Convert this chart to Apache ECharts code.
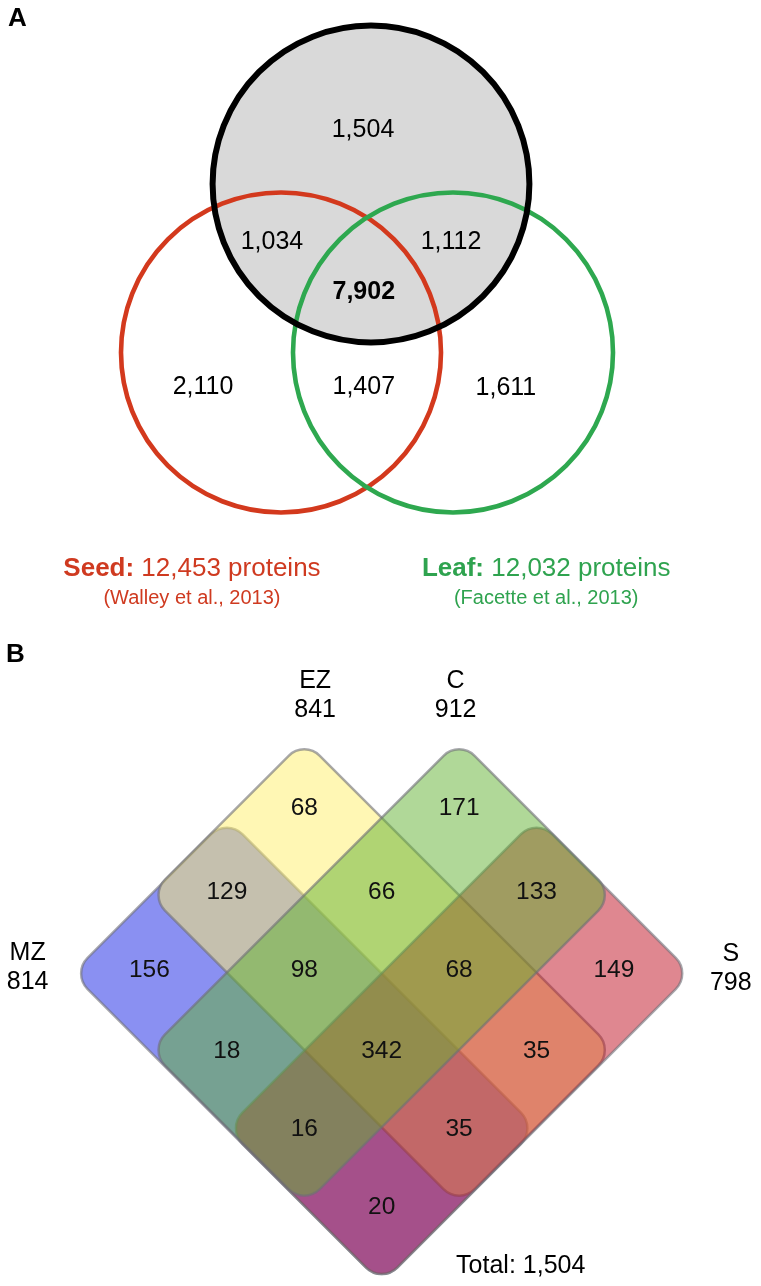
<!DOCTYPE html>
<html>
<head>
<meta charset="utf-8">
<script src="https://cdn.jsdelivr.net/npm/echarts@6/dist/echarts.min.js"></script>
<style>
html,body{margin:0;padding:0;background:#fff;}
#chart{width:761px;height:1286px;}
</style>
</head>
<body>
<div id="chart"></div>
<script>
// ================= DATA =================
// Panel A: three-set proteome overlap (unlabelled grey set = root proteome)
const regionKeysA   = ['Root', 'Root+Seed', 'Root+Leaf', 'Root+Seed+Leaf', 'Seed', 'Seed+Leaf', 'Leaf'];
const regionValuesA = [1504, 1034, 1112, 7902, 2110, 1407, 1611];
const setNamesA     = ['Seed', 'Leaf'];
const setTotalsA    = [12453, 12032];
const setSourcesA   = ['(Walley et al., 2013)', '(Facette et al., 2013)'];

// Panel B: four root zones
const setNamesB     = ['MZ', 'EZ', 'C', 'S'];
const setTotalsB    = [814, 841, 912, 798];
const regionKeysB   = ['MZ', 'EZ', 'C', 'S',
                       'MZ+EZ', 'EZ+C', 'C+S', 'MZ+C', 'EZ+S', 'MZ+S',
                       'MZ+EZ+C', 'EZ+C+S', 'MZ+C+S', 'MZ+EZ+S',
                       'MZ+EZ+C+S'];
const regionValuesB = [156, 68, 171, 149,
                       129, 66, 133, 18, 35, 20,
                       98, 68, 16, 35,
                       342];
const totalLabelB   = 'Total';
const totalB        = 1504;

// ================= LAYOUT / STYLE =================
const FONT = "'Liberation Sans', Arial, Helvetica, sans-serif";
const fmt = v => v.toLocaleString('en-US');

// Panel A geometry in "circle radius" units
const A_CIRCLES = {            // centre x, centre y, radius
  Root: [0.025, 0.725, 0.99],
  Seed: [-0.5375, -0.328, 1.0],
  Leaf: [0.5375, -0.328, 1.0]
};
const A_LABEL_POS = {
  'Root': [-0.025, 1.06], 'Root+Seed': [-0.594, 0.36], 'Root+Leaf': [0.525, 0.36],
  'Root+Seed+Leaf': [-0.02, 0.05], 'Seed': [-1.025, -0.545], 'Seed+Leaf': [-0.02, -0.545],
  'Leaf': [0.868, -0.548]
};
const A_LEGEND_POS = { Seed: [-1.094, -1.68], Leaf: [1.12, -1.68] };
const A_SOURCE_DY = -0.185;
const A_COLORS = { Root: '#000000', Seed: '#D3391D', Leaf: '#2EA84F' };
const A_TEXT_COLORS = { Seed: '#CF3A20', Leaf: '#2FA34F' };

// Panel B geometry: rotated 4x4 cell grid; i runs down-right, j runs up-right
const B_EXTENT = {
  MZ: { i: [-2, 2], j: [-2, 0] },
  EZ: { i: [-2, 2], j: [-1, 1] },
  C:  { i: [-1, 1], j: [-2, 2] },
  S:  { i: [0, 2],  j: [-2, 2] }
};
const B_DRAW_ORDER = ['MZ', 'EZ', 'S', 'C'];
const B_FILL = {
  MZ: 'rgba(21,33,229,0.5)',
  EZ: 'rgba(255,239,105,0.5)',
  C:  'rgba(97,177,49,0.5)',
  S:  'rgba(191,15,33,0.5)'
};
const B_SET_LABEL_POS = { MZ: [-4.573, 0.064], EZ: [-0.86, 3.535], C: [0.955, 3.535], S: [4.51, 0.045] };
const B_TOTAL_POS = [1.796, -3.745];
const toXY = (i, j) => [i + j, j - i];

// ================= BUILD SERIES DATA =================
const circleData = ['Root', 'Seed', 'Leaf', 'RootStroke'].map(k => {
  const c = A_CIRCLES[k === 'RootStroke' ? 'Root' : k];
  return [c[0], c[1], c[2]];
});
const circleStyles = [
  { fill: '#D9D9D9', stroke: null, lineWidth: 0 },
  { fill: 'none', stroke: A_COLORS.Seed, lineWidth: 4.6 },
  { fill: 'none', stroke: A_COLORS.Leaf, lineWidth: 4.6 },
  { fill: 'none', stroke: A_COLORS.Root, lineWidth: 6 }
];

// text items: value [x, y], plus text style info
const textA = regionKeysA.map((k, n) => ({
  value: A_LABEL_POS[k], text: fmt(regionValuesA[n]), size: 25,
  weight: k === 'Root+Seed+Leaf' ? 'bold' : 'normal', color: '#000'
}));
setNamesA.forEach((name, n) => {
  const p = A_LEGEND_POS[name];
  textA.push({
    value: p, size: 26, color: A_TEXT_COLORS[name],
    text: '{b|' + name + ':} ' + fmt(setTotalsA[n]) + ' proteins',
    rich: { b: { fontWeight: 'bold', fontSize: 26, fill: A_TEXT_COLORS[name], fontFamily: FONT } }
  });
  textA.push({ value: [p[0], p[1] + A_SOURCE_DY], size: 20, color: A_TEXT_COLORS[name], text: setSourcesA[n] });
});

const rectDataB = B_DRAW_ORDER.map(name => {
  const e = B_EXTENT[name];
  const ic = (e.i[0] + e.i[1]) / 2, jc = (e.j[0] + e.j[1]) / 2;
  const c = toXY(ic, jc);
  return [c[0], c[1], e.i[1] - e.i[0], e.j[1] - e.j[0]];
});

const regionMapB = {};
regionKeysB.forEach((k, n) => { regionMapB[k] = regionValuesB[n]; });
const textB = [];
[-1.5, -0.5, 0.5, 1.5].forEach(i => {
  [-1.5, -0.5, 0.5, 1.5].forEach(j => {
    const members = setNamesB.filter(s => {
      const e = B_EXTENT[s];
      return i > e.i[0] && i < e.i[1] && j > e.j[0] && j < e.j[1];
    });
    const key = members.join('+');
    if (!(key in regionMapB)) return;
    const p = toXY(i, j);
    let y = p[1];
    if (y >= 2) y += 0.1;            // tips of the upper lobes
    else if (y >= 0) y += 0.03;
    textB.push({ value: [p[0], y], text: String(regionMapB[key]), size: 24.5, color: '#111' });
  });
});
setNamesB.forEach((s, n) => {
  textB.push({ value: B_SET_LABEL_POS[s], text: s + '\n' + setTotalsB[n], size: 25, color: '#000' });
});
textB.push({ value: B_TOTAL_POS, text: totalLabelB + ': ' + fmt(totalB), size: 25, color: '#000' });

// ================= CHART =================
const chart = echarts.init(document.getElementById('chart'), null, { renderer: 'canvas' });
const hiddenAxis = { show: false, splitLine: { show: false } };

function textSeries(gi, items) {
  return {
    type: 'custom', xAxisIndex: gi, yAxisIndex: gi, silent: true, clip: false, z: 10,
    data: items.map(d => d.value),
    renderItem: function (params, api) {
      const d = items[params.dataIndex];
      const p = api.coord([api.value(0), api.value(1)]);
      const style = {
        text: d.text, x: p[0], y: p[1], fill: d.color,
        fontSize: d.size, fontFamily: FONT, fontWeight: d.weight || 'normal',
        align: 'center', verticalAlign: 'middle', lineHeight: 29
      };
      if (d.rich) style.rich = d.rich;
      return { type: 'text', style: style };
    }
  };
}

chart.setOption({
  animation: false,
  backgroundColor: '#ffffff',
  textStyle: { fontFamily: FONT },
  title: [
    { text: 'A', left: 3, top: 1, textStyle: { fontSize: 26, fontWeight: 'bold', color: '#000', fontFamily: FONT } },
    { text: 'B', left: 1, top: 637, textStyle: { fontSize: 26, fontWeight: 'bold', color: '#000', fontFamily: FONT } }
  ],
  grid: [
    { left: 15, top: 4, width: 736, height: 600 },
    { left: 2.35, top: 659, width: 769.3, height: 628 }
  ],
  xAxis: [
    Object.assign({ type: 'value', gridIndex: 0, min: -2.2, max: 2.4 }, hiddenAxis),
    Object.assign({ type: 'value', gridIndex: 1, min: -4.9, max: 4.9 }, hiddenAxis)
  ],
  yAxis: [
    Object.assign({ type: 'value', gridIndex: 0, min: -1.9, max: 1.85 }, hiddenAxis),
    Object.assign({ type: 'value', gridIndex: 1, min: -4, max: 4 }, hiddenAxis)
  ],
  series: [
    {
      type: 'custom', xAxisIndex: 0, yAxisIndex: 0, silent: true, clip: false,
      data: circleData,
      renderItem: function (params, api) {
        const c = api.coord([api.value(0), api.value(1)]);
        const r = api.size([api.value(2), 0])[0];
        const st = circleStyles[params.dataIndex];
        return { type: 'circle', shape: { cx: c[0], cy: c[1], r: r },
                 style: { fill: st.fill, stroke: st.stroke, lineWidth: st.lineWidth } };
      }
    },
    {
      type: 'custom', xAxisIndex: 1, yAxisIndex: 1, silent: true, clip: false,
      data: rectDataB,
      renderItem: function (params, api) {
        const c = api.coord([api.value(0), api.value(1)]);
        const cell = api.size([1, 0])[0] * Math.SQRT2;
        const w = api.value(2) * cell, h = api.value(3) * cell;
        const name = B_DRAW_ORDER[params.dataIndex];
        return {
          type: 'rect', x: c[0], y: c[1], rotation: -Math.PI / 4,
          shape: { x: -w / 2, y: -h / 2, width: w, height: h, r: 22 },
          style: { fill: B_FILL[name], stroke: 'rgba(110,110,118,0.6)', lineWidth: 2.5 }
        };
      }
    },
    textSeries(0, textA),
    textSeries(1, textB)
  ]
});
</script>
</body>
</html>
